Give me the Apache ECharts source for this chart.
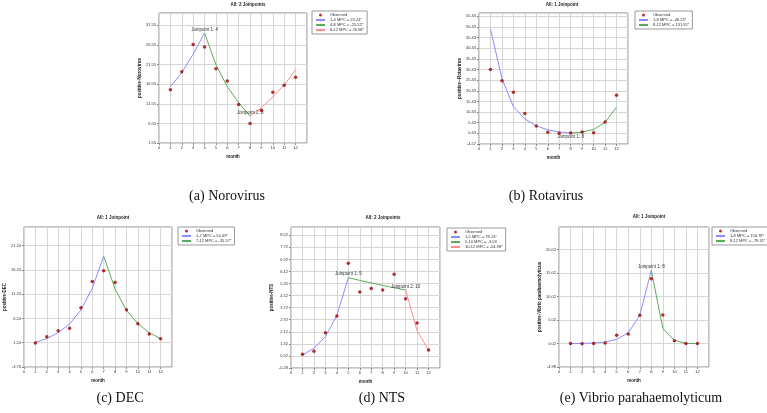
<!DOCTYPE html>
<html>
<head>
<meta charset="utf-8">
<script src="https://cdn.jsdelivr.net/npm/echarts@6/dist/echarts.min.js"></script>
<style>
html, body { margin: 0; padding: 0; background: #fff; }
#chart { width: 767px; height: 413px; }
</style>
</head>
<body>
<div id="chart"></div>
<script>
// months 1..12 on every panel
const months = [1, 2, 3, 4, 5, 6, 7, 8, 9, 10, 11, 12];

// (a) Norovirus
const noroObserved = [15.15, 19.7, 26.65, 26.05, 20.5, 17.35, 11.35, 6.55, 9.9, 14.5, 16.25, 18.3];
const noroSeg1 = [15.9, 19.5, 24.2, 29.6];          // months 1-4
const noroSeg2 = [29.6, 21.5, 15.9, 11.8, 8.4];     // months 4-8
const noroSeg3 = [8.4, 10.6, 13.3, 16.4, 20.2];     // months 8-12
const noroNames = ["1-4 MPC = 23.24*", "4-8 MPC = -25.52*", "8-12 MPC = 26.88*"];
const noroTicks = [1.55, 6.55, 11.55, 16.55, 21.55, 26.55, 31.55];

// (b) Rotavirus
const rotaObserved = [30.4, 25.2, 19.8, 9.8, 3.9, 1.0, 0.5, 0.6, 1.1, 0.7, 5.8, 18.3];
const rotaSeg1 = [49.5, 26.2, 13.0, 7.2, 3.9, 2.1, 1.1, 0.6]; // months 1-8
const rotaSeg2 = [0.6, 1.0, 2.3, 5.6, 12.8];                  // months 8-12
const rotaNames = ["1-8 MPC = -46.23*", "8-12 MPC = 131.92*"];
const rotaTicks = [-4.57, 0.43, 5.43, 10.43, 15.43, 20.43, 25.43, 30.43, 35.43, 40.43, 45.43, 50.43, 55.43];

// (c) DEC
const decObserved = [1.17, 2.47, 3.71, 4.25, 8.43, 13.84, 16.1, 13.64, 8.02, 5.14, 3.02, 2.06];
const decSeg1 = [1.3, 2.1, 3.3, 5.1, 8.0, 12.5, 19.1];  // months 1-7
const decSeg2 = [19.1, 12.3, 7.9, 5.2, 3.3, 2.1];       // months 7-12
const decNames = ["1-7 MPC = 54.69*", "7-12 MPC = -35.57*"];
const decTicks = [-3.76, 1.24, 6.24, 11.24, 16.24, 21.24];

// (d) NTS
const ntsObserved = [0.63, 0.83, 2.06, 3.17, 6.66, 4.76, 5.0, 4.89, 5.93, 4.32, 2.7, 0.91];
const ntsSeg1 = [0.58, 1.03, 1.8, 3.2, 5.71];           // months 1-5
const ntsSeg2 = [5.71, 5.53, 5.36, 5.2, 5.04, 4.89];    // months 5-10
const ntsSeg3 = [4.89, 2.2, 0.9];                       // months 10-12
const ntsNames = ["1-5 MPC = 78.24*", "5-10 MPC = -3.03", "10-12 MPC = -54.98*"];
const ntsTicks = [-0.28, 0.52, 1.32, 2.12, 2.92, 3.72, 4.52, 5.32, 6.12, 6.92, 7.72, 8.52];

// (e) Vibrio parahaemolyticus
const vibObserved = [0.02, 0.0, 0.02, 0.15, 1.77, 2.05, 6.03, 13.84, 6.1, 0.63, 0.02, 0.02];
const vibSeg1 = [0.02, 0.05, 0.14, 0.35, 0.9, 2.3, 6.0, 15.6]; // months 1-8
const vibSeg2 = [15.6, 3.2, 0.7, 0.05, 0.02];                  // months 8-12
const vibNames = ["1-8 MPC = 156.78*", "8-12 MPC = -79.31*"];
const vibTicks = [-4.98, 0.02, 5.02, 10.02, 15.02, 20.02];

const segColors = ["#8c8cff", "#5cab5c", "#ff8c8c"];
const obsColor = "#a00000";
const font = "Liberation Sans";

const panels = [
  {
    grid: { left: 159, top: 13, width: 148, height: 130 },
    ticks: noroTicks, yMax: 34.7, yName: "positive-Norovirus",
    title: "All: 2 Joinpoints", titleX: 248, titleY: 5,
    legendX: 312, legendY: 11,
    observed: noroObserved,
    segs: [[1, noroSeg1], [4, noroSeg2], [8, noroSeg3]], names: noroNames,
    joints: [[0, 3, "Joinpoint 1: 4", "top"], [1, 4, "Joinpoint 2: 8", "top"]],
    caption: "(a) Norovirus", capX: 227, capY: 196
  },
  {
    grid: { left: 479, top: 13, width: 149, height: 131 },
    ticks: rotaTicks, yMax: 57.0, yName: "positive--Rotavirus",
    title: "All: 1 Joinpoint", titleX: 562, titleY: 5,
    legendX: 635, legendY: 11,
    observed: rotaObserved,
    segs: [[1, rotaSeg1], [8, rotaSeg2]], names: rotaNames,
    joints: [[0, 7, "Joinpoint 1: 8", "bottom"]],
    caption: "(b) Rotavirus", capX: 546, capY: 196
  },
  {
    grid: { left: 24, top: 227, width: 148, height: 140 },
    ticks: decTicks, yMax: 25.1, yName: "positive-DEC",
    title: "All: 1 Joinpoint", titleX: 113, titleY: 218,
    legendX: 178, legendY: 227,
    observed: decObserved,
    segs: [[1, decSeg1], [7, decSeg2]], names: decNames,
    joints: [],
    caption: "(c) DEC", capX: 120, capY: 398
  },
  {
    grid: { left: 291, top: 227, width: 149, height: 141 },
    ticks: ntsTicks, yMax: 9.07, yName: "positive-NTS",
    title: "All: 2 Joinpoints", titleX: 383, titleY: 218,
    legendX: 447, legendY: 228,
    observed: ntsObserved,
    segs: [[1, ntsSeg1], [5, ntsSeg2], [10, ntsSeg3]], names: ntsNames,
    joints: [[0, 4, "Joinpoint 1: 5", "top"], [1, 5, "Joinpoint 2: 10", "top"]],
    caption: "(d) NTS", capX: 382, capY: 398
  },
  {
    grid: { left: 559, top: 227, width: 150, height: 140 },
    ticks: vibTicks, yMax: 24.85, yName: "positive-Vibrio parahaemolyticus",
    title: "All: 1 Joinpoint", titleX: 649, titleY: 217,
    legendX: 712, legendY: 227,
    observed: vibObserved,
    segs: [[1, vibSeg1], [8, vibSeg2]], names: vibNames,
    joints: [[0, 7, "Joinpoint 1: 8", "top"]],
    caption: "(e) Vibrio parahaemolyticum", capX: 641, capY: 398
  }
];

const option = {
  animation: false,
  textStyle: { fontFamily: font },
  grid: [], xAxis: [], yAxis: [], series: [], legend: [], graphic: []
};

panels.forEach(function (p, i) {
  option.grid.push(Object.assign({
    show: true, backgroundColor: "#fff", borderColor: "#888", borderWidth: 1
  }, p.grid));

  option.xAxis.push({
    gridIndex: i, type: "value", min: 0, max: 13, interval: 1,
    name: "month", nameLocation: "middle", nameGap: 11,
    nameTextStyle: { fontSize: 4.5, fontWeight: "bold", color: "#222" },
    axisLine: { show: false, onZero: false },
    axisTick: { show: true, length: 2, lineStyle: { color: "#888" } },
    axisLabel: { fontSize: 4, color: "#333", margin: 3, showMaxLabel: false },
    splitLine: { show: true, lineStyle: { color: "#d6d6d6", width: 1 } }
  });

  option.yAxis.push({
    gridIndex: i, type: "value",
    min: p.ticks[0], max: p.yMax, interval: p.ticks[1] - p.ticks[0],
    name: p.yName, nameLocation: "middle", nameGap: 17,
    nameTextStyle: { fontSize: 4.5, fontWeight: "bold", color: "#222" },
    axisLine: { show: false, onZero: false },
    axisTick: { show: true, length: 2, lineStyle: { color: "#888" } },
    axisLabel: {
      fontSize: 4, color: "#333", margin: 3, showMaxLabel: false,
      formatter: function (v) { return v.toFixed(2); }
    },
    splitLine: { show: true, lineStyle: { color: "#d6d6d6", width: 1 } }
  });

  p.segs.forEach(function (s, k) {
    const data = s[1].map(function (v, j) { return [s[0] + j, v]; });
    p.joints.forEach(function (jn) {
      if (jn[0] === k) {
        data[jn[1]] = {
          value: data[jn[1]],
          label: {
            show: true, formatter: jn[2], position: jn[3], distance: 1,
            fontSize: 4.5, color: "#333"
          }
        };
      }
    });
    option.series.push({
      name: p.names[k], type: "line", xAxisIndex: i, yAxisIndex: i,
      data: data, symbol: "circle", symbolSize: 0, showSymbol: true, z: 3,
      lineStyle: { color: segColors[k], width: 1 },
      itemStyle: { color: segColors[k] }
    });
  });

  option.series.push({
    name: "Observed", type: "scatter", xAxisIndex: i, yAxisIndex: i,
    data: months.map(function (m, j) { return [m, p.observed[j]]; }),
    symbol: "circle", symbolSize: 3.5, z: 4,
    itemStyle: { color: obsColor }
  });

  option.legend.push({
    left: p.legendX, top: p.legendY, orient: "vertical",
    data: ["Observed"].concat(p.names),
    backgroundColor: "#fff", borderColor: "#999", borderWidth: 1,
    padding: [2, 3], itemGap: 1, itemWidth: 9, itemHeight: 3,
    textStyle: { fontSize: 4, color: "#333" }
  });

  option.graphic.push({
    type: "text", x: p.titleX, y: p.titleY,
    style: { text: p.title, align: "center", verticalAlign: "middle",
      font: "bold 4.5px '" + font + "'", fill: "#222" }
  });
  option.graphic.push({
    type: "text", x: p.capX, y: p.capY,
    style: { text: p.caption, align: "center", verticalAlign: "middle",
      font: "14px 'Liberation Serif'", fill: "#111" }
  });
});

const myChart = echarts.init(document.getElementById("chart"));
myChart.setOption(option);
</script>
</body>
</html>
